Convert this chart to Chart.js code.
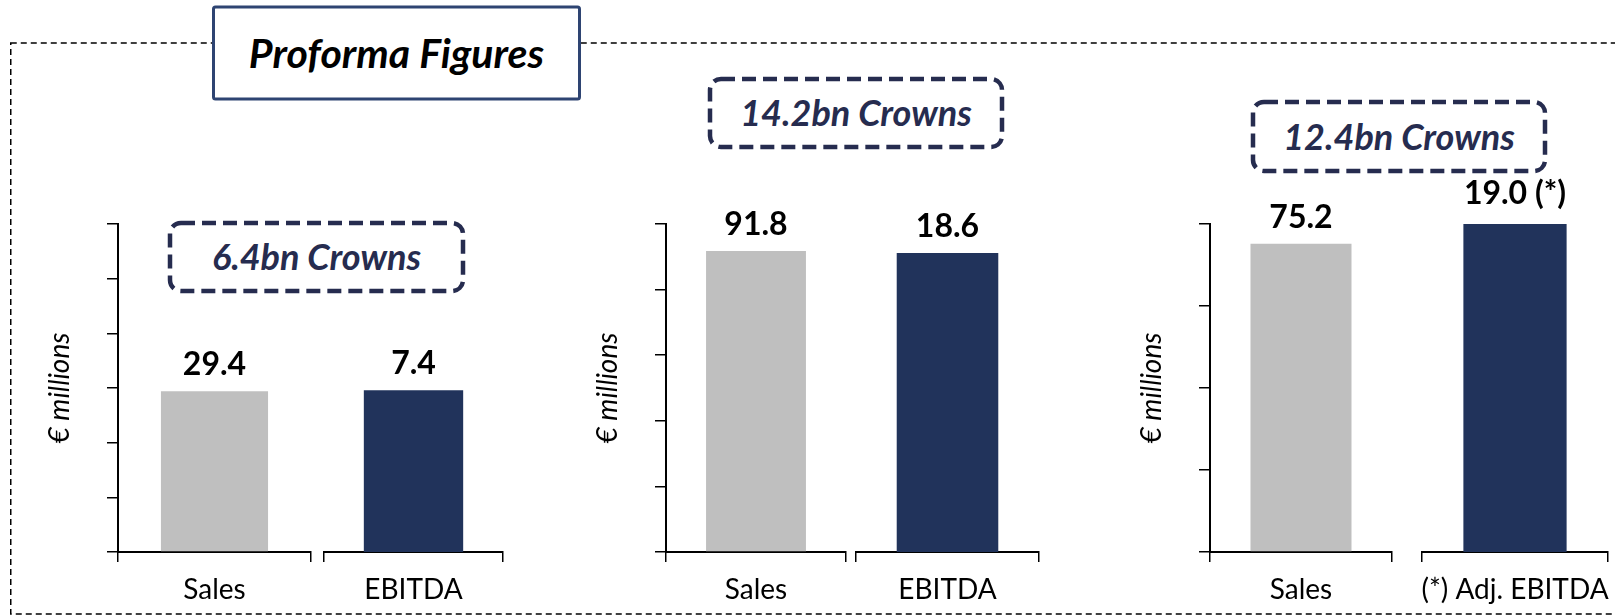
<!DOCTYPE html>
<html>
<head>
<meta charset="utf-8">
<script src="https://cdn.jsdelivr.net/npm/chart.js@4/dist/chart.umd.min.js"></script>
<style>
  html, body { margin: 0; padding: 0; background: #fff; overflow: hidden; }
  #stage { position: relative; width: 1615px; height: 616px; overflow: hidden; }
  #stage svg { position: absolute; left: 0; top: 0; }
  #stage canvas { position: absolute; top: 0; }
</style>
</head>
<body>
<div id="stage">
  <svg id="frame" width="1615" height="616" xmlns="http://www.w3.org/2000/svg">
    <rect x="10.75" y="43" width="1620" height="571" fill="none" stroke="#000" stroke-width="1.5" stroke-dasharray="6 4"/>
    <rect x="213.5" y="7" width="366" height="92" rx="2" fill="#fff" stroke="#2E4472" stroke-width="3"/>
    <text x="396.5" y="68" text-anchor="middle" font-family="Lato" font-weight="700" font-style="italic" font-size="41" fill="#000">Proforma Figures</text>
  </svg>
</div>
<script>
// Proforma figures per business, € millions
const divisions = ['6.4bn Crowns', '14.2bn Crowns', '12.4bn Crowns'];
const salesCategory = ['Sales', 'Sales', 'Sales'];
const ebitdaCategory = ['EBITDA', 'EBITDA', '(*) Adj. EBITDA'];
const salesValues = [29.4, 91.8, 75.2];
const ebitdaValues = [7.4, 18.6, 19.0];
const ebitdaNote = ['', '', ' (*)'];
const salesAxisMax = [60, 100, 80];
const salesAxisStep = [10, 20, 20];
const ebitdaAxisMax = [15, 20.4, 19];

// page geometry of the three panels
const PLOT_TOP = 224;
const PLOT_BOTTOM = 552;
const PAGE_H = 616;
const Y_AXIS_W = 75;
const SIDE_PAD = 40;
const panelLayout = [
  { axisX: 118,  salesRight: 311,  ebitdaLeft: 324,  ebitdaRight: 503,  ebitdaGap: 16,
    badge: { x: 170,  y: 223, w: 293, h: 68 } },
  { axisX: 666,  salesRight: 846,  ebitdaLeft: 856,  ebitdaRight: 1039, ebitdaGap: 16,
    badge: { x: 710,  y: 79,  w: 292, h: 68 } },
  { axisX: 1210, salesRight: 1392, ebitdaLeft: 1422, ebitdaRight: 1608, ebitdaGap: 20,
    badge: { x: 1253, y: 102, w: 292, h: 69 } }
];

const GREY = '#BFBFBF';
const NAVY = '#21335B';
const BADGE = '#262C4F';
const FONT = 'Lato';

// dashed "bn Crowns" badges
const svg = document.getElementById('frame');
const NS = 'http://www.w3.org/2000/svg';
divisions.forEach((txt, i) => {
  const b = panelLayout[i].badge;
  const r = document.createElementNS(NS, 'rect');
  r.setAttribute('x', b.x); r.setAttribute('y', b.y);
  r.setAttribute('width', b.w); r.setAttribute('height', b.h);
  r.setAttribute('rx', 11);
  r.setAttribute('fill', 'none'); r.setAttribute('stroke', BADGE);
  r.setAttribute('stroke-width', 4.5); r.setAttribute('stroke-dasharray', '14 7');
  svg.appendChild(r);
  const t = document.createElementNS(NS, 'text');
  t.setAttribute('x', b.x + b.w / 2); t.setAttribute('y', b.y + b.h / 2 + 13);
  t.setAttribute('text-anchor', 'middle');
  t.setAttribute('font-family', FONT); t.setAttribute('font-weight', '700');
  t.setAttribute('font-style', 'italic'); t.setAttribute('font-size', '36');
  t.setAttribute('fill', BADGE);
  t.textContent = txt;
  svg.appendChild(t);
});

// value written above each bar
const valueLabels = {
  id: 'valueLabels',
  afterDatasetsDraw(chart, args, opts) {
    const { ctx } = chart;
    const meta = chart.getDatasetMeta(0);
    ctx.save();
    ctx.font = 'bold 32px ' + FONT;
    ctx.fillStyle = '#000';
    ctx.textAlign = 'center';
    ctx.textBaseline = 'alphabetic';
    meta.data.forEach((bar, i) => ctx.fillText(opts.texts[i], bar.x, bar.y - opts.gap));
    ctx.restore();
  }
};

const stage = document.getElementById('stage');

function barChart({ left, width, padL, padR, category, value, color, max, step, showAxis, text, gap }) {
  const canvas = document.createElement('canvas');
  canvas.width = width;
  canvas.height = PAGE_H;
  canvas.style.left = left + 'px';
  canvas.style.width = width + 'px';
  canvas.style.height = PAGE_H + 'px';
  stage.appendChild(canvas);

  const yWidth = showAxis ? Y_AXIS_W : 0;
  return new Chart(canvas, {
    type: 'bar',
    data: {
      labels: [category],
      datasets: [{ data: [value], backgroundColor: color, borderWidth: 0,
                   barPercentage: 0.555, categoryPercentage: 1 }]
    },
    plugins: [valueLabels],
    options: {
      responsive: false,
      animation: false,
      devicePixelRatio: 1,
      layout: { padding: { top: PLOT_TOP, left: padL, right: padR, bottom: 0 } },
      plugins: {
        legend: { display: false },
        tooltip: { enabled: false },
        valueLabels: { texts: [text], gap: gap }
      },
      scales: {
        x: {
          type: 'category',
          offset: true,
          grid: { offset: true, drawOnChartArea: false, drawTicks: true, tickLength: 10,
                  lineWidth: 1.5, color: '#000' },
          border: { display: true, color: '#000', width: 2 },
          ticks: { color: '#000', font: { family: FONT, size: 28 }, padding: 11,
                   maxRotation: 0, minRotation: 0, autoSkip: false },
          afterFit(s) { s.height = PAGE_H - PLOT_BOTTOM; }
        },
        y: {
          display: true,
          min: 0,
          max: max,
          ticks: { display: false, stepSize: step },
          grid: { display: showAxis, drawOnChartArea: false, drawTicks: true, tickLength: 11,
                  lineWidth: 1.5, color: '#000' },
          border: { display: showAxis, color: '#000', width: 2 },
          title: { display: showAxis, text: '€ millions', color: '#000', padding: 0,
                   font: { family: FONT, style: 'italic', size: 28 } },
          afterFit(s) { s.width = yWidth; }
        }
      }
    }
  });
}

panelLayout.forEach((p, i) => {
  barChart({
    left: p.axisX - Y_AXIS_W,
    width: Y_AXIS_W + (p.salesRight - p.axisX) + 6,
    padL: 0, padR: 6,
    category: salesCategory[i],
    value: salesValues[i],
    color: GREY,
    max: salesAxisMax[i], step: salesAxisStep[i],
    showAxis: true,
    text: salesValues[i].toFixed(1),
    gap: 16
  });
  barChart({
    left: p.ebitdaLeft - SIDE_PAD,
    width: (p.ebitdaRight - p.ebitdaLeft) + 2 * SIDE_PAD,
    padL: SIDE_PAD, padR: SIDE_PAD,
    category: ebitdaCategory[i],
    value: ebitdaValues[i],
    color: NAVY,
    max: ebitdaAxisMax[i], step: undefined,
    showAxis: false,
    text: ebitdaValues[i].toFixed(1) + ebitdaNote[i],
    gap: p.ebitdaGap
  });
});
</script>
</body>
</html>
